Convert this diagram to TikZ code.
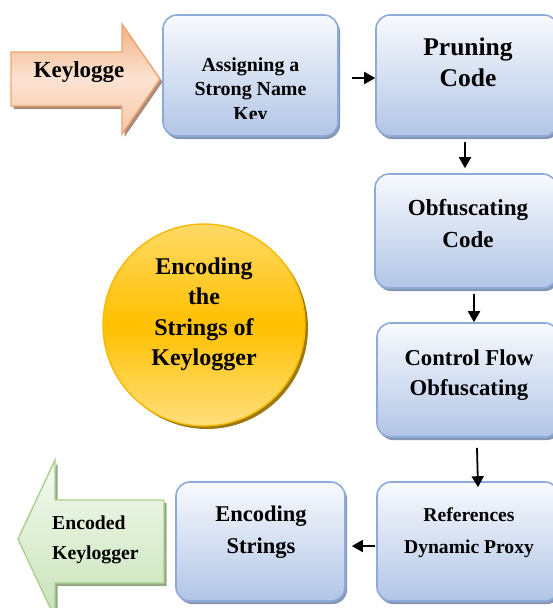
\documentclass[tikz,border=0pt]{standalone}
\usepackage{fontspec}
\setmainfont{Liberation Serif}
\usetikzlibrary{shadows,arrows.meta,calc}
\definecolor{boxtop}{HTML}{F8FAFD}
\definecolor{boxbot}{HTML}{B2C5E6}
\definecolor{boxborder}{HTML}{8EAADB}
\definecolor{boxshadow}{HTML}{8797B3}
\definecolor{goldlight}{HTML}{FFD966}
\definecolor{goldmid}{HTML}{FFC000}
\definecolor{goldborder}{HTML}{F5BA00}
\definecolor{goldshadow}{HTML}{9C7A10}
\definecolor{orangetop}{HTML}{F4B183}
\definecolor{orangemid}{HTML}{FBE3D3}
\definecolor{orangebot}{HTML}{F8C7A6}
\definecolor{orangeborder}{HTML}{F0A470}
\definecolor{orangeshadow}{HTML}{A88C7E}
\definecolor{greentop}{HTML}{F4FAF0}
\definecolor{greenbot}{HTML}{C8E2B8}
\definecolor{greenborder}{HTML}{A9D18E}
\definecolor{greenshadow}{HTML}{93A887}
\begin{document}
\begin{tikzpicture}[x=1pt,y=-1pt,
  stepbox/.style={draw=boxborder, line width=1.6pt, rounded corners=14pt,
    top color=boxtop, bottom color=boxbot, inner sep=0pt,
    drop shadow={shadow xshift=2pt, shadow yshift=-3pt, fill=boxshadow, opacity=1}},
  txt/.style={align=center, inner sep=0pt, text=black},
  conn/.style={line width=1.8pt, -{Triangle[length=11pt,width=12pt]}}
]
\useasboundingbox (0,0) rectangle (553,608);
\clip (0,0) rectangle (553,608);

% input arrow
\path[draw=orangeborder, line width=1.4pt, top color=orangetop, bottom color=orangebot, middle color=orangemid,
  drop shadow={shadow xshift=2.5pt, shadow yshift=-3pt, fill=orangeshadow, opacity=1}]
  (11,52) -- (122,52) -- (122,24) -- (160,79) -- (122,134) -- (122,106) -- (11,106) -- cycle;
\node[txt, font=\bfseries\fontsize{23}{26}\selectfont] (tin) at (79,72) {Keylogge};

% output arrow
\path[draw=greenborder, line width=1.4pt, top color=greentop, bottom color=greenbot,
  drop shadow={shadow xshift=2.5pt, shadow yshift=-3pt, fill=greenshadow, opacity=1}]
  (18,539) -- (55,460) -- (55,500) -- (164,500) -- (164,583) -- (55,583) -- (55,618) -- cycle;
\node[txt, align=left, anchor=west, font=\bfseries\fontsize{19.7}{30.5}\selectfont] (tout) at (52,540) {Encoded\\Keylogger};

% boxes
\node[stepbox, minimum width=175pt, minimum height=121pt] (A) at (250.5,75.5) {};
\node[stepbox, minimum width=182pt, minimum height=121pt] (B) at (467,75.5) {};
\node[stepbox, minimum width=182pt, minimum height=114pt] (C) at (466,231) {};
\node[stepbox, minimum width=182pt, minimum height=114pt] (D) at (468,380) {};
\node[stepbox, minimum width=182pt, minimum height=119pt] (F) at (468,541.5) {};
\node[stepbox, minimum width=169pt, minimum height=119pt] (E) at (260.5,541.5) {};

% circle
\node[circle, draw=goldborder, line width=1.4pt, minimum size=202pt, inner sep=0pt,
  top color=goldlight, bottom color=goldlight!85!white, middle color=goldmid,
  drop shadow={shadow xshift=3pt, shadow yshift=-3pt, fill=goldshadow, opacity=1}] (circ) at (204,325) {};
\node[txt, font=\bfseries\fontsize{24}{30.5}\selectfont] (ctext) at (204,314.5) {Encoding\\the\\Strings of\\Keylogger};

% box texts
\begin{scope}
\clip (160,20) rectangle (340,118);
\node[txt, font=\bfseries\fontsize{19.9}{24.5}\selectfont] (tA) at (250.5,91) {Assigning a\\Strong Name\\Key};
\end{scope}
\node[txt, font=\bfseries\fontsize{25.5}{31}\selectfont] (tB) at (468,62) {Pruning\\Code};
\node[txt, font=\bfseries\fontsize{23}{32}\selectfont] (tC) at (468,224) {Obfuscating\\Code};
\node[txt, font=\bfseries\fontsize{22.7}{30}\selectfont] (tD) at (469,375) {Control Flow\\Obfuscating};
\node[txt, font=\bfseries\fontsize{19.6}{32}\selectfont] (tF) at (469,533) {References\\Dynamic Proxy};
\node[txt, font=\bfseries\fontsize{22.5}{32}\selectfont] (tE) at (261,532) {Encoding\\Strings};

% connectors
\draw[conn] ($(A.east)+(13,2.5)$) -- ($(B.west)+(0,2.5)$);
\draw[conn] ($(B.south)+(-2,5)$) -- ($(C.north)+(-1,-5)$);
\draw[conn] ($(C.south)+(8,5)$) -- ($(D.north)+(6,0)$);
\draw[conn] ($(D.south)+(9,10)$) -- ($(F.north)+(10,6)$);
\draw[conn] ($(F.west)+(-1,4.5)$) -- ($(E.east)+(6,4.5)$);
\end{tikzpicture}
\end{document}
